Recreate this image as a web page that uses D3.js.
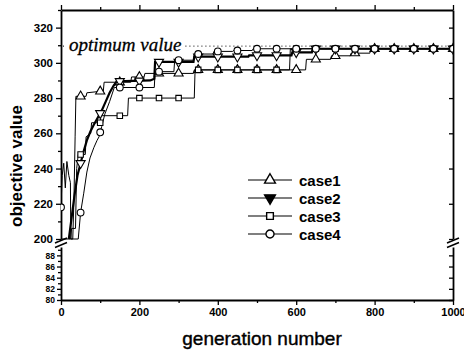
<!DOCTYPE html>
<html><head><meta charset="utf-8">
<script src="https://cdn.jsdelivr.net/npm/d3@7"></script>
<style>body{margin:0;background:#fff}svg{display:block}</style>
</head><body><svg id="c" width="464" height="353"></svg>
<script>
// ---- data ----
const upperTicks = [200, 220, 240, 260, 280, 300, 320];
const upperMinor = [210, 230, 250, 270, 290, 310, 330];
const lowerTicks = [80, 82, 84, 86, 88];
const lowerMinor = [81, 83, 85, 87, 89];
const xTicks = [0, 200, 400, 600, 800, 1000];
const xMinor = [100, 300, 500, 700, 900];
const markerGens = d3.range(0, 1001, 50);
const optimum = 309.5;
const seriesNames = ["case1", "case2", "case3", "case4"];

const case1 = [[0,200],[30,200],[33,222],[36,258],[38,281],[64,281],[66,283],[108,284],[110,289],[178,289],[180,292],[212,292],[214,294],[338,294],[340,296],[624,296],[626,302],[688,302],[690,304],[738,304],[740,305.5],[788,305.5],[790,308],[1000,308]];
const case2 = [[20,200],[27,212],[34,224],[42,236],[50,243],[58,250],[66,256],[75,261],[84,265],[94,269],[104,273],[114,278],[124,283],[134,287],[142,289.5],[228,290],[238,291],[240,300.5],[338,300.5],[340,303.5],[478,303.5],[480,304.2],[588,304.2],[590,306],[640,306],[642,308],[1000,308]];
const case3 = [[25,200],[27,206],[37,206],[40,240],[44,248],[62,248],[64,258],[76,260],[78,266],[100,266],[102,270],[170,270],[172,280],[340,280],[342,296],[583,296],[585,308],[1000,308]];
const case4 = [[0,218],[3,236],[7,243],[11,229],[15,244],[20,236],[24,232],[25,200],[44,200],[50,215],[58,226],[66,238],[74,246],[84,252],[92,256],[97,258],[104,264],[112,271],[124,278],[136,286],[238,286],[240,295],[288,295],[290,301.5],[338,301.5],[340,305],[388,305],[390,306.5],[438,306.5],[440,307],[488,307],[490,308],[1000,308]];
const seriesData = [case1, case2, case3, case4];

// ---- layout ----
const L = 61, R = 453, T = 10, B = 300;
const X = d3.scaleLinear([0, 1000], [L, R]);
const YU = d3.scaleLinear([200, 330], [239, T]);
const YL = d3.scaleLinear([80, 89.5], [B, 247]);

const svg = d3.select("#c");
const font = "'Liberation Sans', Arial, sans-serif";

function styleAxis(g, size, weight) {
  g.selectAll("path.domain").attr("stroke", "#000").attr("stroke-width", 1.8);
  g.selectAll(".tick line").attr("stroke", "#000").attr("stroke-width", 1.3);
  g.selectAll(".tick text").attr("font-family", font).attr("font-size", size)
    .attr("font-weight", weight).attr("fill", "#000");
}

// left upper
let g = svg.append("g").attr("transform", `translate(${L},0)`)
  .call(d3.axisLeft(YU).tickValues(upperTicks).tickSize(5).tickSizeOuter(0).tickPadding(3).tickFormat(d3.format("d")));
styleAxis(g, 11.5, "bold");
g = svg.append("g").attr("transform", `translate(${L},0)`)
  .call(d3.axisLeft(YU).tickValues(upperMinor).tickSize(3).tickSizeOuter(0).tickFormat(""));
styleAxis(g, 0, "normal"); g.select("path.domain").remove();
// left lower
g = svg.append("g").attr("transform", `translate(${L},0)`)
  .call(d3.axisLeft(YL).tickValues(lowerTicks).tickSize(4).tickSizeOuter(0).tickPadding(2).tickFormat(d3.format("d")));
styleAxis(g, 8.5, "bold");
g = svg.append("g").attr("transform", `translate(${L},0)`)
  .call(d3.axisLeft(YL).tickValues(lowerMinor).tickSize(3).tickSizeOuter(0).tickFormat(""));
styleAxis(g, 0, "normal"); g.select("path.domain").remove();
// right axes (inward ticks)
g = svg.append("g").attr("transform", `translate(${R},0)`)
  .call(d3.axisLeft(YU).tickValues(upperTicks).tickSize(4).tickSizeOuter(0).tickFormat(""));
styleAxis(g, 0, "normal");
g = svg.append("g").attr("transform", `translate(${R},0)`)
  .call(d3.axisLeft(YL).tickValues(lowerTicks).tickSize(4).tickSizeOuter(0).tickFormat(""));
styleAxis(g, 0, "normal");
// bottom
g = svg.append("g").attr("transform", `translate(0,${B})`)
  .call(d3.axisBottom(X).tickValues(xTicks).tickSize(5).tickSizeOuter(0).tickPadding(3).tickFormat(d3.format("d")));
styleAxis(g, 11, "bold");
g = svg.append("g").attr("transform", `translate(0,${B})`)
  .call(d3.axisBottom(X).tickValues(xMinor).tickSize(3).tickSizeOuter(0).tickFormat(""));
styleAxis(g, 0, "normal"); g.select("path.domain").remove();
// top
g = svg.append("g").attr("transform", `translate(0,${T})`)
  .call(d3.axisTop(X).tickValues(xTicks).tickSize(5).tickSizeOuter(0).tickFormat(""));
styleAxis(g, 0, "normal");
g = svg.append("g").attr("transform", `translate(0,${T})`)
  .call(d3.axisTop(X).tickValues(xMinor).tickSize(3).tickSizeOuter(0).tickFormat(""));
styleAxis(g, 0, "normal"); g.select("path.domain").remove();

// break marks
[L, R].forEach(x => {
  svg.append("rect").attr("x", x - 3).attr("y", 240).attr("width", 6).attr("height", 6).attr("fill", "#fff");
  [240.5, 245].forEach(y => {
    svg.append("line").attr("x1", x - 6).attr("y1", y + 2.5).attr("x2", x + 6).attr("y2", y - 2.5)
      .attr("stroke", "#000").attr("stroke-width", 1.5);
  });
});

// optimum line + label
const optY = YU(optimum);
const optText = svg.append("text").attr("x", 69).attr("y", optY + 5)
  .attr("font-family", "'Liberation Serif', 'Times New Roman', serif").attr("font-style", "italic")
  .attr("font-size", 19).attr("fill", "#000").attr("stroke", "#000").attr("stroke-width", 0.3)
  .text("optimum value");
const tw = optText.node().getComputedTextLength();
svg.append("line").attr("x1", X(0) + 2).attr("x2", 66).attr("y1", optY).attr("y2", optY)
  .attr("stroke", "#000").attr("stroke-width", 1).attr("stroke-dasharray", "1,3");
svg.append("line").attr("x1", 69 + tw + 4).attr("x2", X(1000)).attr("y1", optY).attr("y2", optY)
  .attr("stroke", "#000").attr("stroke-width", 1).attr("stroke-dasharray", "1,3");

// series
svg.append("clipPath").attr("id", "clip").append("rect")
  .attr("x", L).attr("y", T).attr("width", R - L).attr("height", 240 - T);
const plot = svg.append("g").attr("clip-path", "url(#clip)");
const lineGen = d3.line().x(d => X(d[0])).y(d => YU(d[1]));
const widths = [1, 2.2, 1, 1];
seriesData.forEach((s, i) => {
  plot.append("path").attr("d", lineGen(s)).attr("fill", "none")
    .attr("stroke", "#000").attr("stroke-width", widths[i]);
});

const symbols = [
  {type: d3.symbolTriangle, size: 36, rot: 0},
  {type: d3.symbolTriangle, size: 36, rot: 180},
  {type: d3.symbolSquare, size: 30, rot: 0},
  {type: d3.symbolCircle, size: 36, rot: 0}
];
function valueAt(s, gen) {
  if (gen < s[0][0]) return null;
  for (let k = 0; k < s.length - 1; k++) {
    if (gen >= s[k][0] && gen <= s[k + 1][0]) {
      const t = (gen - s[k][0]) / (s[k + 1][0] - s[k][0] || 1);
      return s[k][1] + t * (s[k + 1][1] - s[k][1]);
    }
  }
  return s[s.length - 1][1];
}
seriesData.forEach((s, i) => {
  const sy = symbols[i];
  markerGens.forEach(gn => {
    const v = valueAt(s, gn);
    if (v === null || v <= 201) return;
    plot.append("path").attr("d", d3.symbol().type(sy.type).size(sy.size)())
      .attr("transform", `translate(${X(gn)},${YU(v)}) rotate(${sy.rot})`)
      .attr("fill", "#fff").attr("stroke", "#000").attr("stroke-width", 1.1);
  });
});

// legend
const legY = [180, 198, 216, 234];
seriesNames.forEach((n, i) => {
  const y = legY[i];
  svg.append("line").attr("x1", 248).attr("x2", 292).attr("y1", y).attr("y2", y)
    .attr("stroke", "#000").attr("stroke-width", 1.2);
  const sy = symbols[i];
  svg.append("path").attr("d", d3.symbol().type(sy.type).size(sy.size + 15)())
    .attr("transform", `translate(270,${y}) rotate(${sy.rot})`)
    .attr("fill", i === 1 ? "#000" : "#fff").attr("stroke", "#000").attr("stroke-width", 1.4);
  svg.append("text").attr("x", 299).attr("y", y + 5.5).attr("font-family", font)
    .attr("font-weight", "bold").attr("font-size", 15).attr("fill", "#000").text(n);
});

// axis titles
svg.append("text").attr("transform", "translate(22,166) rotate(-90)").attr("text-anchor", "middle")
  .attr("font-family", font).attr("font-weight", "bold").attr("font-size", 17).attr("fill", "#000")
  .text("objective value");
svg.append("text").attr("x", 262).attr("y", 345).attr("text-anchor", "middle")
  .attr("font-family", font).attr("font-size", 19).attr("fill", "#000")
  .attr("stroke", "#000").attr("stroke-width", 0.4)
  .text("generation number");
</script></body></html>
